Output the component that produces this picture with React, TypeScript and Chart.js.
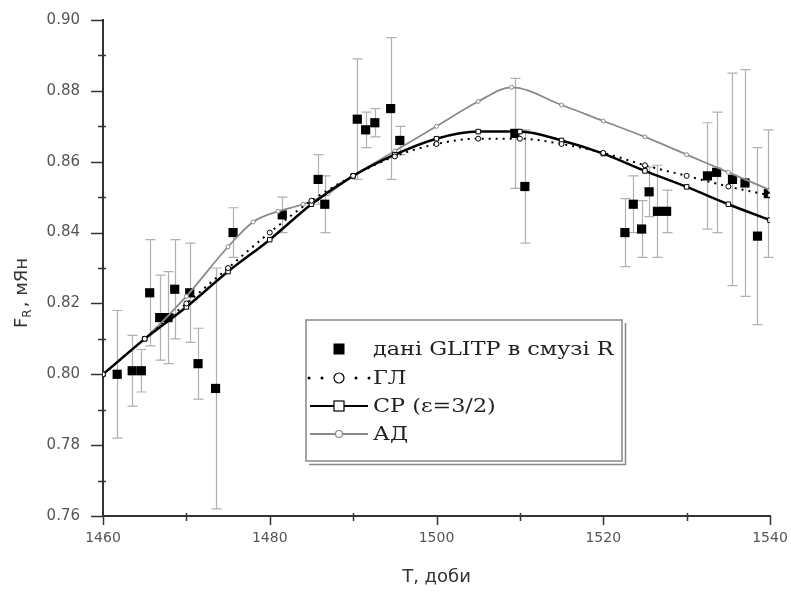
import React, { useEffect, useRef } from "react";
import { Chart, registerables } from "chart.js";
Chart.register(...registerables);

// Observations (GLITP, R band)
const obsT = [1461.7, 1463.5, 1464.6, 1465.6, 1466.8, 1467.8, 1468.6, 1470.4, 1471.4, 1473.5, 1475.6, 1481.5, 1485.8, 1486.6, 1490.5, 1491.5, 1492.6, 1494.5, 1495.6, 1509.4, 1510.6, 1522.6, 1523.6, 1524.6, 1525.5, 1526.5, 1527.6, 1532.5, 1533.6, 1535.5, 1537.0, 1538.5, 1539.8];
const obsF = [0.800, 0.801, 0.801, 0.823, 0.816, 0.816, 0.824, 0.823, 0.803, 0.796, 0.840, 0.845, 0.855, 0.848, 0.872, 0.869, 0.871, 0.875, 0.866, 0.868, 0.853, 0.840, 0.848, 0.841, 0.8515, 0.846, 0.846, 0.856, 0.857, 0.855, 0.854, 0.839, 0.851];
const obsErr = [0.018, 0.010, 0.006, 0.015, 0.012, 0.013, 0.014, 0.014, 0.010, 0.034, 0.007, 0.005, 0.007, 0.008, 0.017, 0.005, 0.004, 0.020, 0.004, 0.0155, 0.016, 0.0096, 0.008, 0.008, 0.007, 0.013, 0.006, 0.015, 0.017, 0.030, 0.032, 0.025, 0.018];

// Models
const modelT = [1460, 1465, 1470, 1475, 1480, 1485, 1490, 1495, 1500, 1505, 1510, 1515, 1520, 1525, 1530, 1535, 1540];
const srF = [0.800, 0.810, 0.819, 0.829, 0.838, 0.848, 0.856, 0.862, 0.8665, 0.8685, 0.8685, 0.866, 0.8623, 0.8574, 0.8529, 0.848, 0.8435];
const glF = [0.800, 0.810, 0.820, 0.830, 0.840, 0.849, 0.856, 0.8615, 0.865, 0.8665, 0.8665, 0.865, 0.8625, 0.859, 0.856, 0.853, 0.8505];
const adT = [1460, 1465, 1470, 1475, 1478, 1481, 1484, 1487, 1490, 1495, 1500, 1505, 1509, 1515, 1520, 1525, 1530, 1535, 1540];
const adF = [0.800, 0.810, 0.822, 0.836, 0.843, 0.846, 0.848, 0.851, 0.856, 0.863, 0.870, 0.877, 0.881, 0.876, 0.8715, 0.867, 0.862, 0.857, 0.852];

const xMin = 1460, xMax = 1540, xStep = 10, xLabelStep = 20;
const yMin = 0.76, yMax = 0.90, yStep = 0.01;
const legendLabels = ["дані GLITP в смузі R", "ГЛ", "СР (ε=3/2)", "АД"];
const xTitle = "T, доби";
const yTitleMain = "F";
const yTitleSub = "R";
const yTitleRest = ", мЯн";

const errorBarPlugin = {
  id: "errbars",
  beforeDatasetsDraw(chart: any) {
    const { ctx, scales } = chart;
    const xs = scales.x, ys = scales.y;
    ctx.save();
    ctx.strokeStyle = "#b0b0b0";
    ctx.lineWidth = 1.2;
    obsT.forEach((t, i) => {
      const px = Math.round(xs.getPixelForValue(t)) + 0.5;
      const top = ys.getPixelForValue(obsF[i] + obsErr[i]);
      const bot = ys.getPixelForValue(obsF[i] - obsErr[i]);
      ctx.beginPath();
      ctx.moveTo(px, top); ctx.lineTo(px, bot);
      ctx.moveTo(px - 5, top); ctx.lineTo(px + 5, top);
      ctx.moveTo(px - 5, bot); ctx.lineTo(px + 5, bot);
      ctx.stroke();
    });
    ctx.restore();
  },
};

const decorPlugin = {
  id: "decor",
  afterDraw(chart: any) {
    const { ctx, scales, chartArea } = chart;
    const xs = scales.x, ys = scales.y;
    ctx.save();
    // tick marks
    ctx.strokeStyle = "#333";
    ctx.lineWidth = 1.5;
    for (let v = xMin; v <= xMax + 1e-9; v += xStep) {
      const px = Math.round(xs.getPixelForValue(v)) + 0.5;
      const major = Math.round(v) % xLabelStep === 0;
      ctx.beginPath();
      ctx.moveTo(px, chartArea.bottom - (major ? 0 : 3));
      ctx.lineTo(px, chartArea.bottom + (major ? 9 : 5));
      ctx.stroke();
    }
    for (let k = Math.round(yMin * 100); k <= Math.round(yMax * 100); k++) {
      const py = Math.round(ys.getPixelForValue(k / 100)) + 0.5;
      const major = k % 2 === 0;
      ctx.beginPath();
      ctx.moveTo(chartArea.left - (major ? 12 : 5), py);
      ctx.lineTo(chartArea.left + (major ? 0 : 3), py);
      ctx.stroke();
    }
    // x title
    ctx.fillStyle = "#333";
    ctx.font = '18px "DejaVu Sans"';
    ctx.textAlign = "center";
    ctx.textBaseline = "middle";
    ctx.fillText(xTitle, (chartArea.left + chartArea.right) / 2, 577);
    // y title
    ctx.translate(22, (chartArea.top + chartArea.bottom) / 2 + 26);
    ctx.rotate(-Math.PI / 2);
    ctx.textAlign = "left";
    ctx.font = '18px "DejaVu Sans"';
    const wF = ctx.measureText(yTitleMain).width;
    ctx.font = '12px "DejaVu Sans"';
    const wR = ctx.measureText(yTitleSub).width;
    ctx.font = '18px "DejaVu Sans"';
    const wRest = ctx.measureText(yTitleRest).width;
    const x0 = -(wF + wR + wRest) / 2;
    ctx.fillText(yTitleMain, x0, 0);
    ctx.font = '12px "DejaVu Sans"';
    ctx.fillText(yTitleSub, x0 + wF, 6);
    ctx.font = '18px "DejaVu Sans"';
    ctx.fillText(yTitleRest, x0 + wF + wR + 2, 0);
    ctx.restore();

    // legend box
    ctx.save();
    const bx = 306, by = 320, bw = 316, bh = 141;
    ctx.strokeStyle = "#888";
    ctx.lineWidth = 1.5;
    ctx.strokeRect(bx, by, bw, bh);
    ctx.beginPath();
    ctx.moveTo(bx + 3, by + bh + 3.5);
    ctx.lineTo(bx + bw + 3.5, by + bh + 3.5);
    ctx.lineTo(bx + bw + 3.5, by + 3);
    ctx.stroke();
    const rows = [349, 378, 406, 434];
    const symX = 339;
    // row 1: black square
    ctx.fillStyle = "#000";
    ctx.fillRect(symX - 5.5, rows[0] - 5.5, 11, 11);
    // row 2: dotted + circle
    [309, 322, 356, 369].forEach((dx) => { ctx.beginPath(); ctx.arc(dx, rows[1], 1.5, 0, Math.PI * 2); ctx.fill(); });
    ctx.beginPath();
    ctx.arc(symX, rows[1], 5, 0, Math.PI * 2);
    ctx.fillStyle = "#fff"; ctx.fill();
    ctx.strokeStyle = "#000"; ctx.lineWidth = 1.2; ctx.stroke();
    // row 3: thick line + open square
    ctx.strokeStyle = "#000"; ctx.lineWidth = 2.2;
    ctx.beginPath(); ctx.moveTo(310, rows[2]); ctx.lineTo(368, rows[2]); ctx.stroke();
    ctx.fillStyle = "#fff"; ctx.fillRect(symX - 5, rows[2] - 5, 10, 10);
    ctx.lineWidth = 1.2; ctx.strokeRect(symX - 5, rows[2] - 5, 10, 10);
    // row 4: gray line + circle
    ctx.strokeStyle = "#888"; ctx.lineWidth = 1.8;
    ctx.beginPath(); ctx.moveTo(310, rows[3]); ctx.lineTo(368, rows[3]); ctx.stroke();
    ctx.beginPath(); ctx.arc(symX, rows[3], 3.5, 0, Math.PI * 2);
    ctx.fillStyle = "#fff"; ctx.fill(); ctx.lineWidth = 1.2; ctx.stroke();
    // texts (horizontally stretched like the reference)
    ctx.fillStyle = "#222";
    ctx.font = '18px "DejaVu Serif"';
    ctx.textAlign = "left";
    ctx.textBaseline = "middle";
    legendLabels.forEach((l, i) => {
      ctx.save();
      ctx.translate(373, rows[i] + 1);
      ctx.scale(1.24, 1);
      ctx.fillText(l, 0, 0);
      ctx.restore();
    });
    ctx.restore();
  },
};

export default function App() {
  const ref = useRef<HTMLCanvasElement>(null);
  useEffect(() => {
    if (!ref.current) return;
    const chart = new Chart(ref.current, {
      type: "line",
      data: {
        datasets: [
          {
            label: legendLabels[1],
            data: modelT.map((t, i) => ({ x: t, y: glF[i] })),
            borderColor: "#000",
            borderWidth: 2,
            borderDash: [2, 5],
            pointStyle: "circle",
            pointRadius: 2.5,
            pointBackgroundColor: "#fff",
            pointBorderColor: "#000",
            pointBorderWidth: 1,
            cubicInterpolationMode: "monotone",
            order: 1,
          },
          {
            label: legendLabels[2],
            data: modelT.map((t, i) => ({ x: t, y: srF[i] })),
            borderColor: "#000",
            borderWidth: 2.5,
            pointStyle: "rect",
            pointRadius: 3.2,
            pointBackgroundColor: "#fff",
            pointBorderColor: "#000",
            pointBorderWidth: 1,
            cubicInterpolationMode: "monotone",
            order: 2,
          },
          {
            label: legendLabels[3],
            data: adT.map((t, i) => ({ x: t, y: adF[i] })),
            borderColor: "#8a8a8a",
            borderWidth: 1.8,
            pointStyle: "circle",
            pointRadius: 2,
            pointBackgroundColor: "#fff",
            pointBorderColor: "#8a8a8a",
            pointBorderWidth: 1,
            cubicInterpolationMode: "monotone",
            order: 3,
          },
          {
            label: legendLabels[0],
            data: obsT.map((t, i) => ({ x: t, y: obsF[i] })),
            showLine: false,
            pointStyle: "rect",
            pointRadius: 6.5,
            pointBackgroundColor: "#000",
            pointBorderColor: "#000",
            pointBorderWidth: 0,
            order: 4,
          },
        ],
      },
      options: {
        animation: false,
        responsive: false,
        devicePixelRatio: 1,
        layout: { padding: { left: 0, right: 21, top: 20, bottom: 0 } },
        plugins: { legend: { display: false }, tooltip: { enabled: false } },
        scales: {
          x: {
            type: "linear",
            min: xMin,
            max: xMax,
            afterFit: (s: any) => { s.height = 76; s.paddingLeft = 0; s.paddingRight = 0; },
            grid: { display: true, drawOnChartArea: false, drawTicks: true, tickLength: 9, tickColor: "rgba(0,0,0,0)" },
            border: { display: true, color: "#333", width: 2 },
            ticks: {
              stepSize: xStep,
              padding: 5,
              color: "#555",
              font: { family: "DejaVu Sans", size: 14 },
              maxRotation: 0,
              autoSkip: false,
              callback: (v: any) => (Math.round(v) % xLabelStep === 0 ? String(Math.round(v)) : ""),
            },
          },
          y: {
            type: "linear",
            min: yMin,
            max: yMax,
            afterFit: (s: any) => { s.width = 103; s.paddingTop = 0; s.paddingBottom = 0; },
            grid: { display: true, drawOnChartArea: false, drawTicks: true, tickLength: 10, tickColor: "rgba(0,0,0,0)" },
            border: { display: true, color: "#333", width: 2 },
            ticks: {
              stepSize: yStep,
              padding: 13,
              color: "#555",
              font: { family: "DejaVu Sans", size: 15 },
              autoSkip: false,
              callback: (v: any) => {
                const k = Math.round(v * 100);
                return k % 2 === 0 ? (k / 100).toFixed(2) : "";
              },
            },
          },
        },
      },
      plugins: [errorBarPlugin, decorPlugin],
    } as any);
    return () => chart.destroy();
  }, []);
  return (
    <div style={{ position: "absolute", left: 0, top: 0, width: 791, height: 592, background: "#fff" }}>
      <canvas ref={ref} width={791} height={592} style={{ display: "block" }} />
    </div>
  );
}
